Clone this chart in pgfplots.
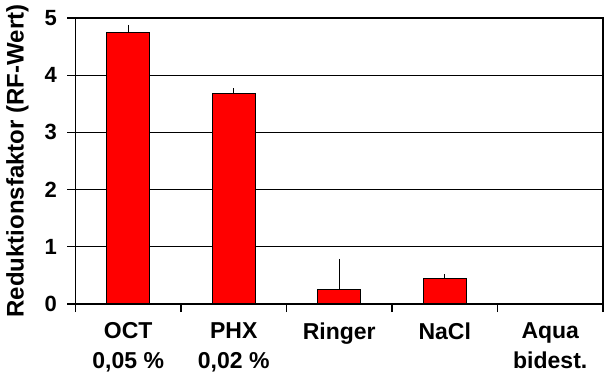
\documentclass[border=0pt]{standalone}
\usepackage{fontspec}
\setmainfont{Liberation Sans}
\usepackage{pgfplots}
\pgfplotsset{compat=1.18}
\begin{document}
\begin{tikzpicture}
\useasboundingbox (0,0) rectangle (610pt,389pt);
\begin{axis}[
  at={(75.5pt,85pt)}, anchor=south west,
  scale only axis, width=527.5pt, height=286pt,
  xmin=-0.5, xmax=4.5, ymin=0, ymax=5,
  axis line style={black, line width=1.2pt},
  xtick={0,1,2,3,4},
  xticklabels={{OCT\\0,05 \%},{PHX\\0,02 \%},{Ringer},{NaCl},{Aqua\\bidest.}},
  minor xtick={-0.5,0.5,1.5,2.5,3.5,4.5},
  major x tick style={draw=none},
  minor tick length=8pt,
  major tick length=8pt,
  tick align=outside,
  xtick pos=bottom, ytick pos=left,
  tick style={black, line width=1.2pt},
  ytick={0,1,2,3,4,5},
  ymajorgrids,
  grid style={black, line width=1.2pt},
  /pgf/number format/assume math mode=true,
  xticklabel style={font=\bfseries\fontsize{23}{30}\selectfont, align=center, anchor=north, yshift=-7pt},
  yticklabel style={font=\bfseries\fontsize{22}{26}\selectfont, xshift=-7pt},
  ylabel={Reduktionsfaktor (RF-Wert)},
  every axis y label/.style={at={(rel axis cs:0,0.5)}, xshift=-58pt, rotate=90, anchor=center,
    font=\bfseries\fontsize{24}{26}\selectfont},
]
\addplot[ybar, bar width=43pt, fill={rgb,255:red,255;green,0;blue,0}, draw=black, line width=1.2pt,
  error bars/.cd, y dir=plus, y explicit, error mark=none,
  error bar style={black, line width=1.2pt}]
  table[x=x, y=y, y error=e] {
x y e
0 4.75 0.13
1 3.68 0.09
2 0.26 0.53
3 0.44 0.08
4 0.00 0.00
};
\end{axis}
\end{tikzpicture}
\end{document}
